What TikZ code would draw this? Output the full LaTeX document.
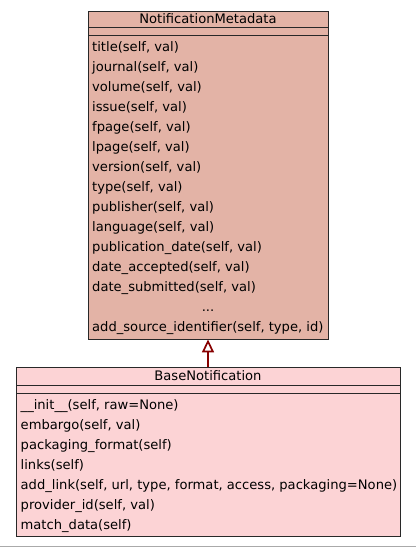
\documentclass[tikz,border=0pt]{standalone}
\usepackage{fontspec}
\setmainfont{DejaVu Sans}
\usetikzlibrary{arrows.meta}
\definecolor{metafill}{RGB}{227,179,166}
\definecolor{basefill}{RGB}{252,211,213}
\definecolor{boxline}{RGB}{40,40,40}
\definecolor{inherit}{RGB}{135,0,0}
\definecolor{rulegray}{RGB}{170,170,170}
\tikzset{
  classbox/.style={draw=boxline, line width=0.9pt, inner sep=0pt, anchor=north west},
  sepline/.style={draw=boxline, line width=0.9pt},
  title/.style={font=\fontsize{13.1}{15}\selectfont, inner sep=0pt, anchor=base},
  member/.style={font=\fontsize{13.1}{15}\selectfont, inner sep=0pt, anchor=base west},
  generalization/.style={draw=inherit, line width=1.7pt, -{Triangle[open, length=13pt, width=12pt, fill=white]}},
}
\begin{document}
\begin{tikzpicture}[x=1pt, y=-1pt]
  \useasboundingbox (0,0) rectangle (416,547);
  \fill[white] (0,0) rectangle (416,547);

  % NotificationMetadata class
  \node[classbox, fill=metafill, minimum width=240pt, minimum height=328pt] (meta) at (88,10.5) {};
  \draw[sepline] (88,27.7) -- (328,27.7);
  \draw[sepline] (88,35.3) -- (328,35.3);
  \node[title] (metaname) at (208,23) {NotificationMetadata};
  \foreach \m [count=\i from 0] in {{title(self, val)}, {journal(self, val)}, {volume(self, val)}, {issue(self, val)}, {fpage(self, val)}, {lpage(self, val)}, {version(self, val)}, {type(self, val)}, {publisher(self, val)}, {language(self, val)}, {publication\_date(self, val)}, {date\_accepted(self, val)}, {date\_submitted(self, val)}}
    \node[member] (meta-m\i) at (92, 51+20*\i) {\m};
  \node[title] (meta-more) at (208,311) {...};
  \node[member] (meta-last) at (92,331) {add\_source\_identifier(self, type, id)};

  % BaseNotification class
  \node[classbox, fill=basefill, minimum width=384pt, minimum height=168.4pt] (base) at (16,367.3) {};
  \draw[sepline] (16,385) -- (400,385);
  \draw[sepline] (16,393) -- (400,393);
  \node[title] (basename) at (208,380.5) {BaseNotification};
  \foreach \m [count=\i from 0] in {{\_\_init\_\_(self, raw=None)}, {embargo(self, val)}, {packaging\_format(self)}, {links(self)}, {add\_link(self, url, type, format, access, packaging=None)}, {provider\_id(self, val)}, {match\_data(self)}}
    \node[member] (base-m\i) at (20.5, 409+20*\i) {\m};

  % inheritance arrow
  \draw[generalization] (base.north -| 208,0) -- (meta.south -| 208,0);

  % bottom rule
  \draw[rulegray, line width=1pt] (0,546) -- (416,546);
\end{tikzpicture}
\end{document}
